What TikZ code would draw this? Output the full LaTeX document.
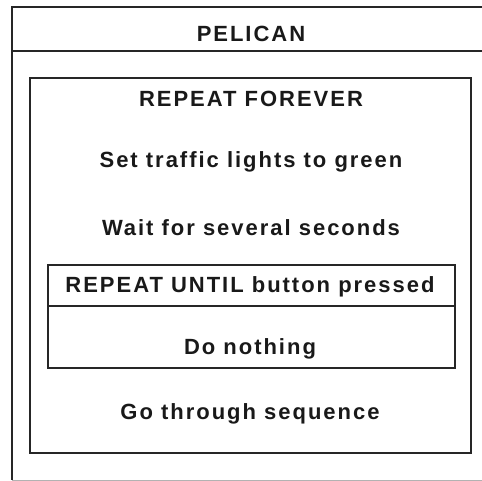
\documentclass[tikz,border=0pt]{standalone}
\usepackage{fontspec}
\setmainfont{Liberation Sans}[LetterSpace=9]
\begin{document}
\begin{tikzpicture}[x=1pt,y=-1pt,
  frame/.style={line width=1.4pt,draw=black!85},
  txt/.style={font=\bfseries\fontsize{22}{26}\selectfont,text=black!90,inner sep=0pt,anchor=center}]
\useasboundingbox (0,0) rectangle (482,481);
% outer box (right edge off the picture)
\coordinate (otl) at (12,7);
\coordinate (otr) at (484,7);
\coordinate (obl) at (12,480);
\coordinate (obr) at (484,480);
\coordinate (hdl) at (12,51);
\coordinate (hdr) at (484,51);
\draw[frame] (otr) -- (otl) -- (obl);
\draw[line width=0.8pt,draw=black!30] (obl) -- (obr);
\draw[frame] (hdl) -- (hdr);
\node[txt] (pelican) at (251,34) {PELICAN};
% repeat forever box
\coordinate (rftl) at (30,78);
\coordinate (rfbr) at (471,453);
\draw[frame] (rftl) rectangle (rfbr);
\node[txt] (rf) at (251,99) {REPEAT FOREVER};
\node[txt] (green) at (251,162) {Set traffic lights to green};
\node[txt] (wait) at (251,228) {Wait for several seconds};
% repeat until box
\coordinate (rutl) at (48,265);
\coordinate (rubr) at (455,368);
\coordinate (rudl) at (48,306);
\coordinate (rudr) at (455,306);
\draw[frame] (rutl) rectangle (rubr);
\draw[frame] (rudl) -- (rudr);
\node[txt] (until) at (250,287) {REPEAT UNTIL button pressed};
\node[txt] (nothing) at (250,349) {Do nothing};
\node[txt] (seq) at (250,414) {Go through sequence};
\end{tikzpicture}
\end{document}
